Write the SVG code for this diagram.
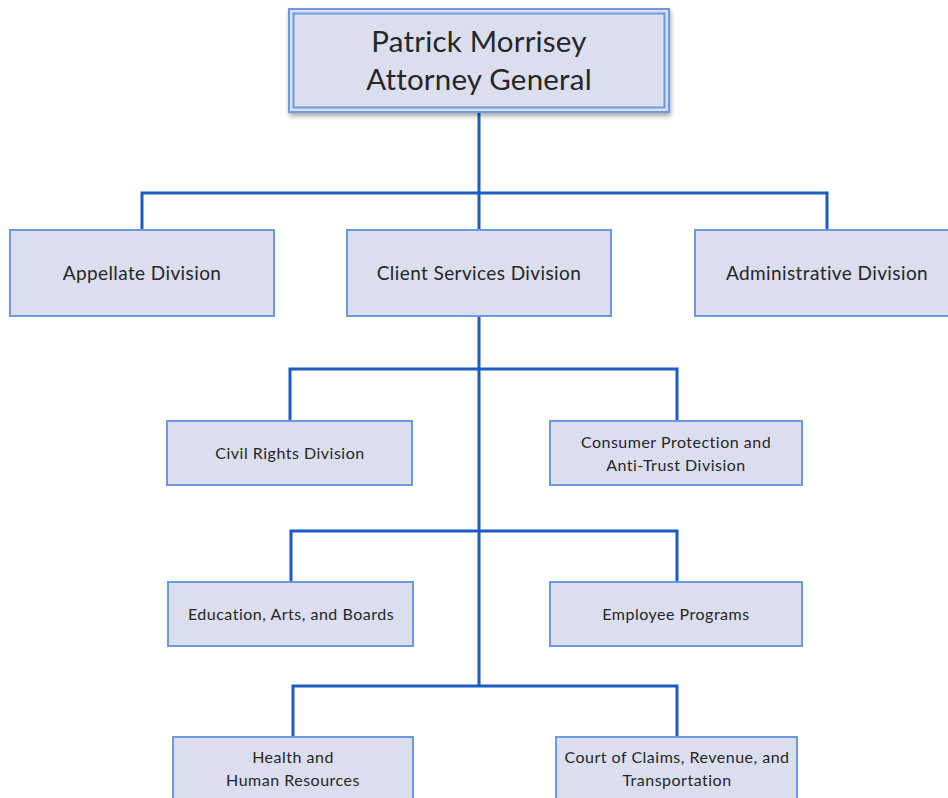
<svg xmlns="http://www.w3.org/2000/svg" width="948" height="798" viewBox="0 0 948 798">
<defs>
<style>
.box{fill:#dadeef;stroke:#6d9ade;stroke-width:2}
.conn{fill:none;stroke:#1b5cc4;stroke-width:3}
.t{font-family:Lato,"Open Sans","Liberation Sans",sans-serif;fill:#262626;text-anchor:middle}
.l2{font-size:19px;letter-spacing:0.4px}
.l3{font-size:16px;letter-spacing:0.5px}
.l1{font-size:29.5px;letter-spacing:0.2px}
</style>
<filter id="sh" x="-10%" y="-20%" width="120%" height="150%">
<feGaussianBlur in="SourceAlpha" stdDeviation="2.5"/>
<feOffset dx="1" dy="3" result="b"/>
<feComponentTransfer><feFuncA type="linear" slope="0.35"/></feComponentTransfer>
<feMerge><feMergeNode/><feMergeNode in="SourceGraphic"/></feMerge>
</filter>
</defs>
<rect width="948" height="798" fill="#ffffff"/>
<g id="connectors">
<path class="conn" d="M479 111V193M142 230V193H827V230M479 193V230"/>
<path class="conn" d="M479 316V686M290 421V369H677V421M291 582V531H677V582M293 737V686H677V737"/>
</g>
<g id="n-ag">
<g filter="url(#sh)">
<rect x="289" y="9" width="380" height="103" fill="#dadeef" stroke="#6d9ade" stroke-width="2"/>
</g>
<rect x="293.5" y="13.5" width="371" height="94" fill="none" stroke="#6d9ade" stroke-width="2"/>
<text class="t l1" x="479" y="52">Patrick Morrisey</text>
<text class="t l1" x="479" y="90">Attorney General</text>
</g>
<g id="n-appellate">
<rect class="box" x="10" y="230" width="264" height="86"/>
<text class="t l2" x="142" y="280">Appellate Division</text>
</g>
<g id="n-client">
<rect class="box" x="347" y="230" width="264" height="86"/>
<text class="t l2" x="479" y="280">Client Services Division</text>
</g>
<g id="n-admin">
<rect class="box" x="695" y="230" width="264" height="86"/>
<text class="t l2" x="827" y="280">Administrative Division</text>
</g>
<g id="n-civil">
<rect class="box" x="167" y="421" width="245" height="64"/>
<text class="t l3" x="290" y="459">Civil Rights Division</text>
</g>
<g id="n-consumer">
<rect class="box" x="550" y="421" width="252" height="64"/>
<text class="t l3" x="676" y="448">Consumer Protection and</text>
<text class="t l3" x="676" y="471">Anti-Trust Division</text>
</g>
<g id="n-education">
<rect class="box" x="168" y="582" width="245" height="64"/>
<text class="t l3" x="291" y="620">Education, Arts, and Boards</text>
</g>
<g id="n-employee">
<rect class="box" x="550" y="582" width="252" height="64"/>
<text class="t l3" x="676" y="620">Employee Programs</text>
</g>
<g id="n-health">
<rect class="box" x="173" y="737" width="240" height="66"/>
<text class="t l3" x="293" y="763">Health and</text>
<text class="t l3" x="293" y="786">Human Resources</text>
</g>
<g id="n-court">
<rect class="box" x="556" y="737" width="241" height="66"/>
<text class="t l3" x="677" y="763">Court of Claims, Revenue, and</text>
<text class="t l3" x="677" y="786">Transportation</text>
</g>
</svg>
